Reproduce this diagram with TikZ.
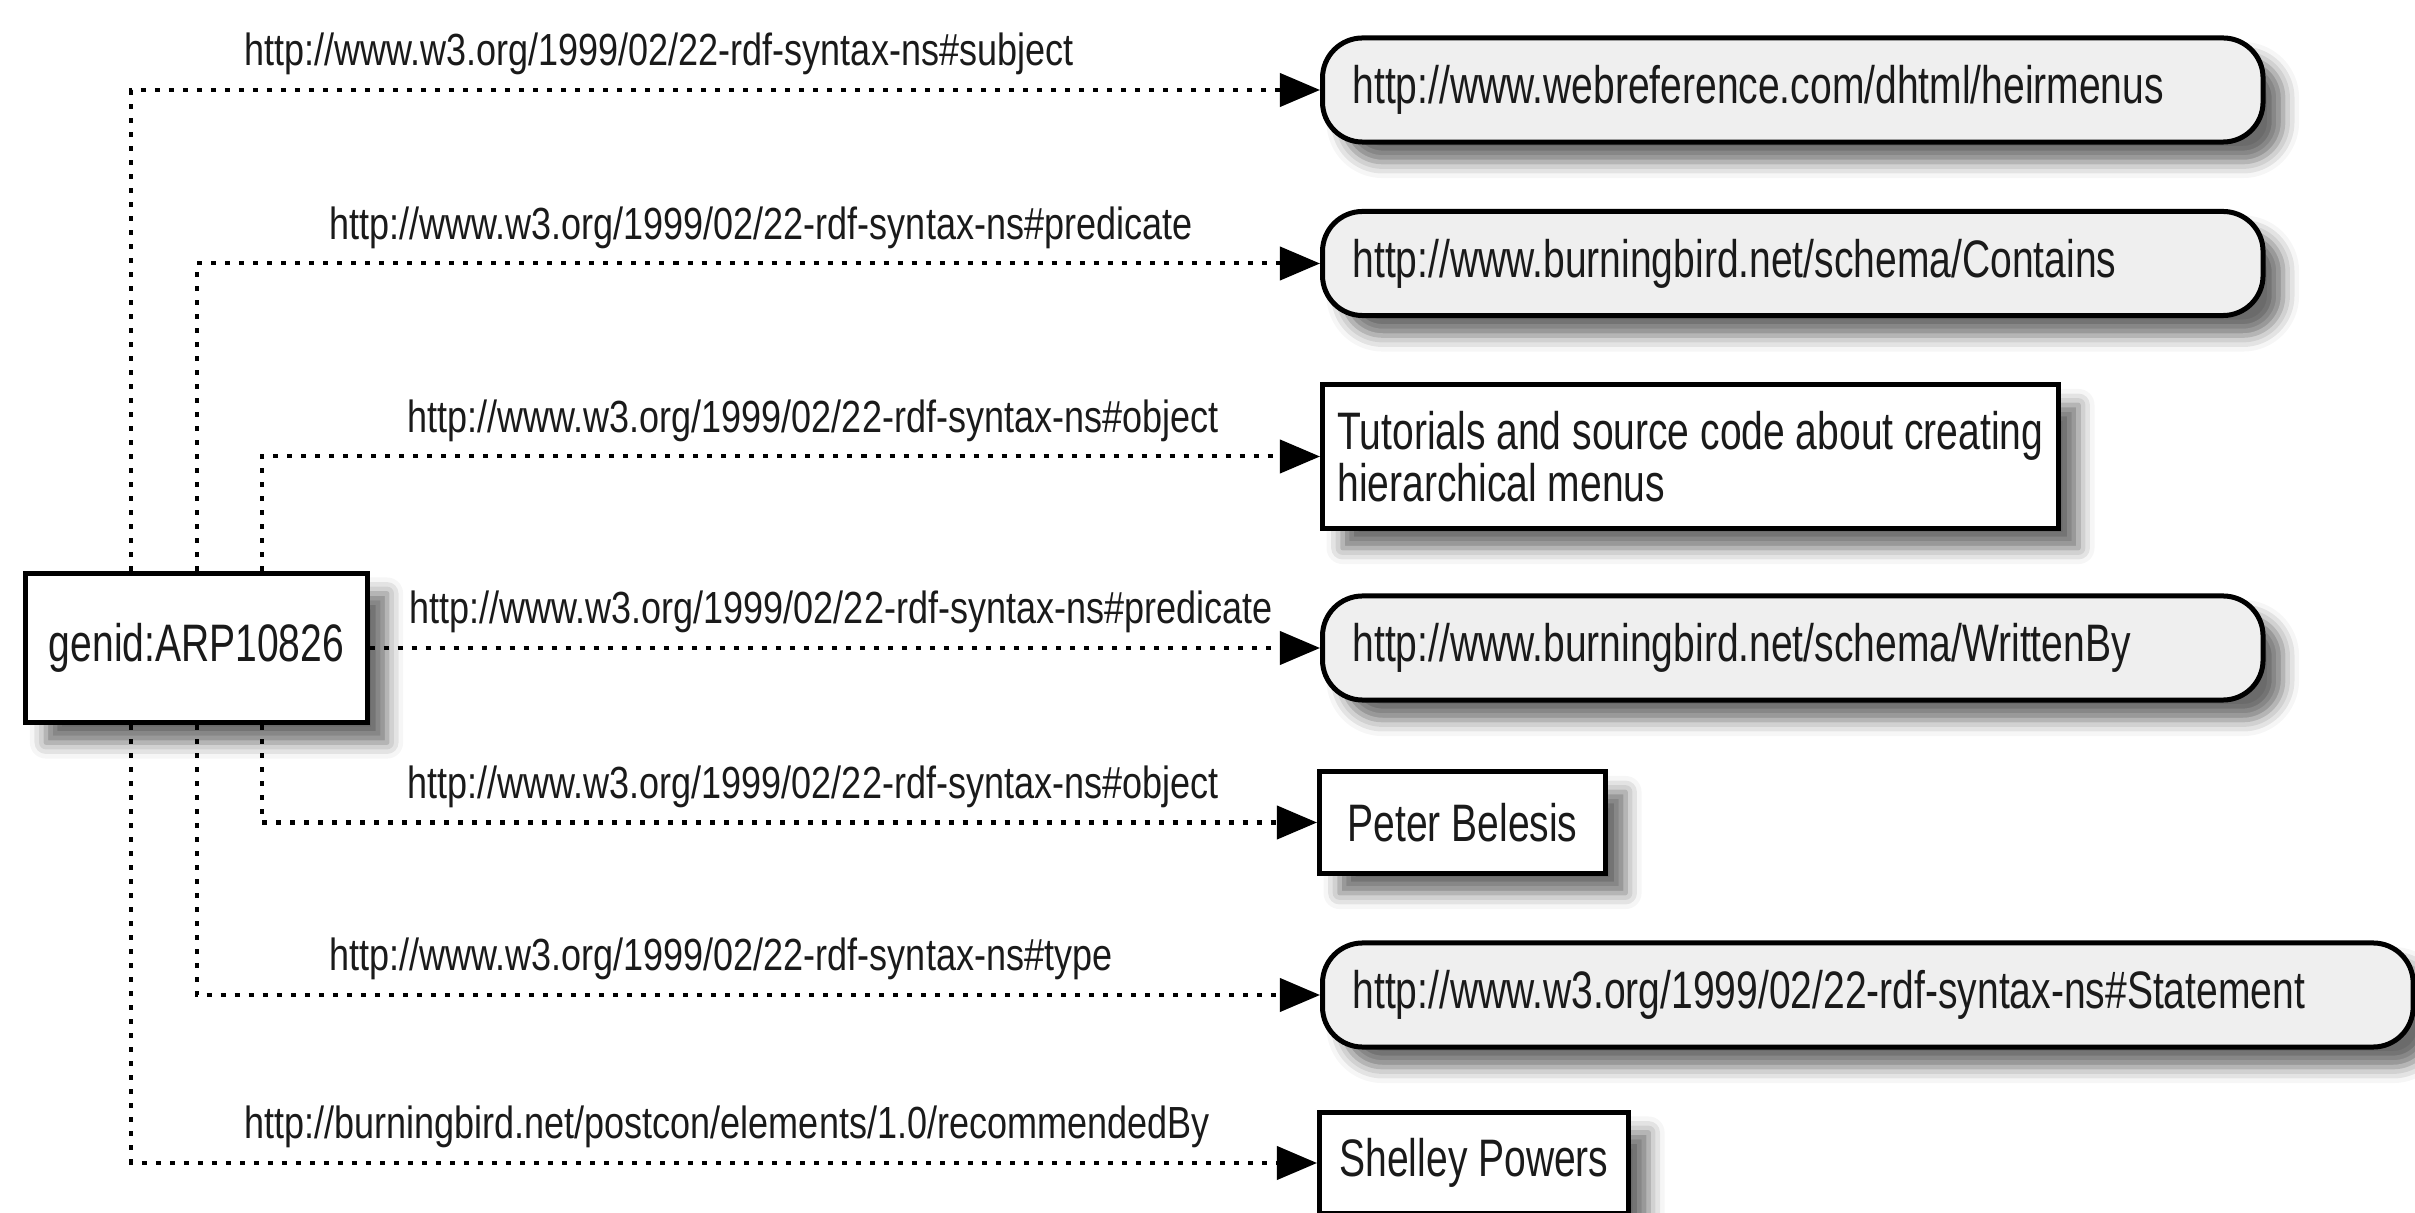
\documentclass[tikz,border=0pt]{standalone}
\usepackage{fontspec}
\newfontfamily\lblfont[FakeStretch=0.8]{Liberation Sans}
\newfontfamily\boxfont[FakeStretch=0.74]{Liberation Sans}
\usetikzlibrary{arrows.meta,shadows.blur}
\definecolor{urifill}{HTML}{EFEFEF}
\definecolor{ink}{HTML}{1A1A1A}

\begin{document}
\begin{tikzpicture}[x=0.01cm,y=-0.01cm,
  shadowed/.style={blur shadow={shadow xshift=0.2cm,shadow yshift=-0.2cm,shadow blur radius=0.16cm,shadow opacity=58}},
  boxtext/.style={font={\boxfont\fontsize{15pt}{14.8pt}\selectfont}, text=ink},
  literal/.style={boxtext, shadowed, draw=black, line width=0.05cm, fill=white, rectangle,
    minimum height=1.01cm, inner xsep=0.28cm, align=left},
  resource/.style={boxtext, shadowed, draw=black, line width=0.05cm, fill=urifill, rectangle,
    rounded corners=0.4cm, minimum height=1.04cm, inner xsep=0.3cm, text width=8.8cm, align=left},
  link/.style={line width=0.04cm, dash pattern=on 0.05cm off 0.09cm,
    -{Triangle[length=0.4cm,width=0.33cm]}},
  prop/.style={font={\lblfont\fontsize{12.8pt}{14pt}\selectfont}, text=ink,
    anchor=base west, inner sep=0pt, yshift=0.24cm}
]
\useasboundingbox (0,0) rectangle (2415,1213);

% statement node
\node[literal, align=center, inner xsep=0.1cm, minimum width=3.41cm, minimum height=1.49cm] (genid) at (196.5,648) {genid:ARP10826};

% objects of the reified statement
\node[resource, anchor=west] (subj) at (1320,90) {http://www.webreference.com/dhtml/heirmenus};
\node[resource, anchor=west] (pred1) at (1320,263.5) {http://www.burningbird.net/schema/Contains};
\node[literal, anchor=west, inner xsep=0.15cm, minimum height=1.43cm] (obj1) at (1320,456.5)
  {Tutorials and source code about creating\\hierarchical menus};
\node[resource, anchor=west] (pred2) at (1320,648) {http://www.burningbird.net/schema/WrittenBy};
\node[literal, anchor=west] (obj2) at (1317,822.5) {Peter Belesis};
\node[resource, anchor=west, text width=10.3cm] (stype) at (1320,995) {http://www.w3.org/1999/02/22-rdf-syntax-ns\#Statement};
\node[literal, anchor=west, inner xsep=0.2cm] (rec) at (1317,1163) {Shelley Powers};

% property arcs
\draw[link] ([xshift=-0.65cm]genid.north) |-
  node[prop, pos=0.5, xshift=1.11cm] {http://www.w3.org/1999/02/22-rdf-syntax-ns\#subject} (subj.west);
\draw[link] (genid.north) |-
  node[prop, pos=0.5, xshift=1.31cm] {http://www.w3.org/1999/02/22-rdf-syntax-ns\#predicate} (pred1.west);
\draw[link] ([xshift=0.65cm]genid.north) |-
  node[prop, pos=0.5, xshift=1.44cm] {http://www.w3.org/1999/02/22-rdf-syntax-ns\#object} (obj1.west);
\draw[link] (genid.east) --
  node[prop, pos=0, xshift=0.38cm] {http://www.w3.org/1999/02/22-rdf-syntax-ns\#predicate} (pred2.west);
\draw[link] ([xshift=0.65cm]genid.south) |-
  node[prop, pos=0.5, xshift=1.44cm] {http://www.w3.org/1999/02/22-rdf-syntax-ns\#object} (obj2.west);
\draw[link] (genid.south) |-
  node[prop, pos=0.5, xshift=1.31cm] {http://www.w3.org/1999/02/22-rdf-syntax-ns\#type} (stype.west);
\draw[link] ([xshift=-0.65cm]genid.south) |-
  node[prop, pos=0.5, xshift=1.11cm] {http://burningbird.net/postcon/elements/1.0/recommendedBy} (rec.west);
\end{tikzpicture}
\end{document}
